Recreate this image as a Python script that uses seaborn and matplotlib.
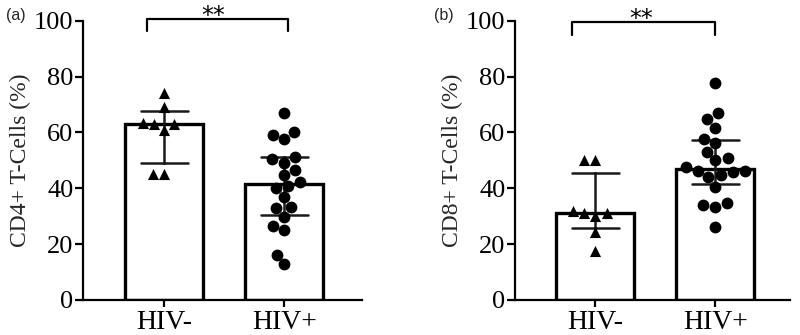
import warnings
warnings.filterwarnings('ignore')
import numpy as np
import pandas as pd
import matplotlib
matplotlib.use('Agg')
import matplotlib.pyplot as plt
import seaborn as sns

groups = ['HIV-', 'HIV+']
cd4_neg = [74, 69, 63, 63.5, 63, 61, 45, 45]
cd4_pos = [66.8, 60.3, 59, 57.5, 50.4, 51.3, 49.2, 46.5, 44.7, 42.4,
           40, 40.8, 36.8, 32.8, 33.2, 29.6, 26.5, 25.1, 16.1, 12.8]
cd8_neg = [50, 50, 31, 32, 30, 31, 24.5, 17.5]
cd8_pos = [77.8, 66.8, 64.7, 61.5, 57.5, 56.1, 53.1, 50.9, 50.1, 46.3,
           45.9, 46.3, 47.5, 44.1, 44.8, 40.6, 34.8, 33.2, 34, 26.2]
yticks = [0, 20, 40, 60, 80, 100]

sns.set_theme(style='ticks')
plt.rcParams['font.family'] = ['Liberation Serif', 'DejaVu Serif']


def iqr(v):
    return (np.percentile(v, 25, method='weibull'),
            np.percentile(v, 75, method='weibull'))


fig = plt.figure(figsize=(8, 3.35), dpi=100)


def panel(rect, neg, pos, ylabel, letter, letter_x, br, star_x, xlim):
    ax = fig.add_axes(rect)
    df = pd.DataFrame({'group': ['HIV-'] * len(neg) + ['HIV+'] * len(pos),
                       'value': neg + pos})
    sns.barplot(data=df, x='group', y='value', order=groups,
                estimator=np.median, errorbar=iqr, width=0.65,
                color='white', saturation=1, edgecolor='black',
                linewidth=2.4, capsize=0.39,
                err_kws={'color': '#1a1a1a', 'linewidth': 1.8}, ax=ax)
    sns.swarmplot(data=df[df.group == 'HIV-'], x='group', y='value',
                  order=groups, marker='^', color='black', size=8,
                  ax=ax, zorder=3)
    sns.swarmplot(data=df[df.group == 'HIV+'], x='group', y='value',
                  order=groups, marker='o', color='black', size=8.5,
                  ax=ax, zorder=3)
    ax.set_ylim(0, 100)
    ax.set_xlim(*xlim)
    ax.set_yticks(yticks)
    ax.set_yticklabels([str(t) for t in yticks])
    ax.set_xlabel('')
    ax.set_ylabel(ylabel, fontsize=17, labelpad=2)
    for s in ['top', 'right']:
        ax.spines[s].set_visible(False)
    for s in ['left', 'bottom']:
        ax.spines[s].set_linewidth(1.6)
        ax.spines[s].set_color('black')
    ax.tick_params(axis='y', labelsize=19, width=1.6, length=6, pad=1,
                   colors='black')
    ax.tick_params(axis='x', labelsize=20, width=1.6, length=5, pad=2,
                   colors='black')
    x0, x1, ytop, ybot = br
    ax.plot([x0, x0, x1, x1], [ybot, ytop, ytop, ybot], color='black',
            lw=1.6, clip_on=False)
    ax.text(star_x, ytop - 1.3, '**', ha='center', va='baseline',
            fontsize=17, family='DejaVu Sans', color='black', clip_on=False)
    fig.text(letter_x, 0.955, letter, fontsize=11.5, family='Liberation Sans',
             ha='left', va='center')
    return ax


panel([0.104, 0.1045, 0.349, 0.8335], cd4_neg, cd4_pos,
      'CD4+ T-Cells (%)', '(a)', 0.008, (-0.14, 1.03, 100.5, 96.5), 0.41,
      (-0.675, 1.65))
panel([0.644, 0.1045, 0.344, 0.8335], cd8_neg, cd8_pos,
      'CD8+ T-Cells (%)', '(b)', 0.543, (-0.19, 1.0, 99.5, 95.0), 0.38,
      (-0.667, 1.625))

fig.savefig('out.png', dpi=100)
